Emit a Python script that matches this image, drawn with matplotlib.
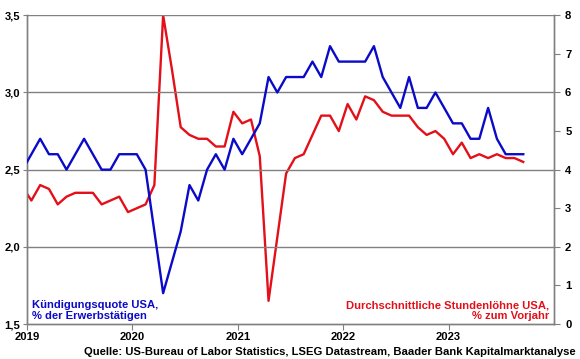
import matplotlib
matplotlib.use("Agg")
import matplotlib.pyplot as plt

plt.rcParams['font.family'] = ['Liberation Sans', 'DejaVu Sans']
plt.rcParams['font.weight'] = 'bold'

# Monthly data, Dec 2018 .. Sep 2023
quits_rate = [2.5,
    2.6, 2.7, 2.6, 2.6, 2.5, 2.6, 2.7, 2.6, 2.5, 2.5, 2.6, 2.6,
    2.6, 2.5, 2.1, 1.7, 1.9, 2.1, 2.4, 2.3, 2.5, 2.6, 2.5, 2.7,
    2.6, 2.7, 2.8, 3.1, 3.0, 3.1, 3.1, 3.1, 3.2, 3.1, 3.3, 3.2,
    3.2, 3.2, 3.2, 3.3, 3.1, 3.0, 2.9, 3.1, 2.9, 2.9, 3.0, 2.9,
    2.8, 2.8, 2.7, 2.7, 2.9, 2.7, 2.6, 2.6, 2.6]
wages_yoy = [3.55,
    3.2, 3.6, 3.5, 3.1, 3.3, 3.4, 3.4, 3.4, 3.1, 3.2, 3.3, 2.9,
    3.0, 3.1, 3.6, 8.0, 6.6, 5.1, 4.9, 4.8, 4.8, 4.6, 4.6, 5.5,
    5.2, 5.3, 4.35, 0.6, 2.25, 3.9, 4.3, 4.4, 4.9, 5.4, 5.4, 5.0,
    5.7, 5.3, 5.9, 5.8, 5.5, 5.4, 5.4, 5.4, 5.1, 4.9, 5.0, 4.8,
    4.4, 4.7, 4.3, 4.4, 4.3, 4.4, 4.3, 4.3, 4.2]
year_labels = ["2019", "2020", "2021", "2022", "2023"]
left_ticks = [1.5, 2.0, 2.5, 3.0, 3.5]
right_ticks = [0, 1, 2, 3, 4, 5, 6, 7, 8]

# months since Jan 2019, plotted at mid-month
months = [i - 1 + 0.5 for i in range(len(quits_rate))]

BLUE = "#0A0AC8"
RED = "#E3101A"
GRID = "#808080"
FS = 8.1

fig = plt.figure(figsize=(5.8, 3.59), dpi=100)
ax = fig.add_axes([27/580, 1 - 324/359, (554 - 27)/580, (324 - 15.3)/359])
ax2 = ax.twinx()

ax.plot(months, quits_rate, color=BLUE, lw=1.7, zorder=3)
ax2.plot(months, wages_yoy, color=RED, lw=1.7, zorder=3)

ax.set_xlim(0, 60)
ax.set_ylim(1.5, 3.5)
ax2.set_ylim(0, 8)

ax.set_yticks(left_ticks)
ax.set_yticklabels([f"{v:.1f}".replace(".", ",") for v in left_ticks])
ax2.set_yticks(right_ticks)
ax2.set_yticklabels([str(v) for v in right_ticks])
ax.set_xticks([0, 12, 24, 36, 48])
ax.set_xticklabels(year_labels)

for v in left_ticks[1:]:
    ax.axhline(v, color=GRID, lw=1.0, zorder=1)

for a in (ax, ax2):
    for s in a.spines.values():
        s.set_color(GRID)
        s.set_linewidth(1.0)
    a.spines['top'].set_visible(False)

ax.tick_params(axis='y', direction='out', length=3, color=GRID, labelsize=FS, pad=2)
ax.tick_params(axis='x', direction='out', length=4, color=GRID, labelsize=FS, pad=2)
ax2.tick_params(axis='y', direction='out', length=4, color=GRID, labelsize=FS, pad=4)
for lab in ax.get_xticklabels() + ax.get_yticklabels() + ax2.get_yticklabels():
    lab.set_fontweight('bold')

ax.set_zorder(ax2.get_zorder() + 1)
ax.patch.set_visible(False)

fig.text(32/580, 1 - 310.5/359, "Kündigungsquote USA,\n% der Erwerbstätigen",
         color=BLUE, fontsize=FS, fontweight='bold', ha='left', va='center',
         linespacing=1.1)
fig.text(549/580, 1 - 310.5/359, "Durchschnittliche Stundenlöhne USA,\n% zum Vorjahr",
         color=RED, fontsize=FS, fontweight='bold', ha='right', va='center',
         linespacing=1.1, multialignment='right')
fig.text(576/580, 1 - 352/359,
         "Quelle: US-Bureau of Labor Statistics, LSEG Datastream, Baader Bank Kapitalmarktanalyse",
         color="black", fontsize=FS, fontweight='bold', ha='right', va='center')

fig.savefig("out.png", dpi=100)
